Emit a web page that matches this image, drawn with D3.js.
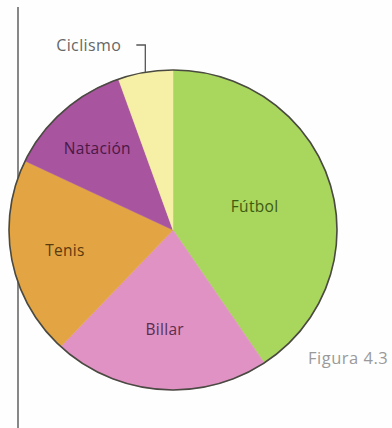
<!DOCTYPE html>
<html>
<head>
<meta charset="utf-8">
<script src="https://cdn.jsdelivr.net/npm/d3@7"></script>
<style>
  html, body { margin: 0; padding: 0; background: #fefefe; }
  svg { display: block; }
</style>
</head>
<body>
<svg id="chart" width="392" height="428"></svg>
<script>
// Data (percentages)
const categories = ["Fútbol", "Billar", "Tenis", "Natación", "Ciclismo"];
const values = [40.6, 21.4, 20.1, 12.5, 5.4];
const colors = ["#a9d65c", "#e092c4", "#e3a544", "#a8549f", "#f5f0a6"];
const textColors = ["#3d5a12", "#5a2e4f", "#5a3a0e", "#4b1846", "#666666"];
const caption = "Figura 4.3";

const svg = d3.select("#chart");
const W = 392, H = 428;
const cx = 173, cy = 230, rx = 164, ry = 160;
const font = "'Open Sans', 'Noto Sans', sans-serif";

// left vertical rule
svg.append("line")
  .attr("x1", 18).attr("x2", 18).attr("y1", 7).attr("y2", H)
  .attr("stroke", "#555").attr("stroke-width", 1.4);

const data = categories.map((c, i) => ({ name: c, value: values[i], i }));
const pie = d3.pie().sort(null).value(d => d.value).startAngle(0).endAngle(2 * Math.PI);
const arcs = pie(data);
const R = rx;
const arc = d3.arc().innerRadius(0).outerRadius(R);

const g = svg.append("g")
  .attr("transform", `translate(${cx},${cy}) scale(1,${ry / rx})`);

g.selectAll("path.slice")
  .data(arcs)
  .join("path")
  .attr("class", "slice")
  .attr("d", arc)
  .attr("fill", d => colors[d.data.i])
  .attr("stroke", d => colors[d.data.i])
  .attr("stroke-width", 0.5);

g.append("circle")
  .attr("r", R)
  .attr("fill", "none")
  .attr("stroke", "#4a4a42")
  .attr("stroke-width", 1.6);

// label radius factors (layout)
const labelFactor = { "Fútbol": 0.52, "Billar": 0.62, "Tenis": 0.67, "Natación": 0.69 };

function polar(angle, r) {
  return [cx + Math.sin(angle) * r, cy - Math.cos(angle) * r * (ry / rx)];
}

arcs.forEach(a => {
  const name = a.data.name;
  const mid = (a.startAngle + a.endAngle) / 2;
  if (labelFactor[name] !== undefined) {
    const [x, y] = polar(mid, R * labelFactor[name]);
    svg.append("text")
      .attr("x", x).attr("y", y)
      .attr("text-anchor", "middle")
      .attr("dominant-baseline", "central")
      .attr("font-family", font)
      .attr("font-size", 15.5)
      .attr("letter-spacing", 0.3)
      .attr("fill", textColors[a.data.i])
      .text(name);
  } else {
    // outside label with leader line
    const [ex, ey] = polar(mid, R);
    const topY = 45;
    svg.append("path")
      .attr("d", `M${ex},${ey} L${ex},${topY} L${ex - 9},${topY}`)
      .attr("fill", "none")
      .attr("stroke", "#555")
      .attr("stroke-width", 1.3);
    svg.append("text")
      .attr("x", ex - 24).attr("y", topY)
      .attr("text-anchor", "end")
      .attr("dominant-baseline", "central")
      .attr("font-family", font)
      .attr("font-size", 16)
      .attr("letter-spacing", 0.4)
      .attr("fill", textColors[a.data.i])
      .text(name);
  }
});

svg.append("text")
  .attr("x", 308).attr("y", 357)
  .attr("dominant-baseline", "central")
  .attr("font-family", font)
  .attr("font-size", 16.5)
  .attr("letter-spacing", 0.5)
  .attr("fill", "#9a9a9a")
  .text(caption);
</script>
</body>
</html>
